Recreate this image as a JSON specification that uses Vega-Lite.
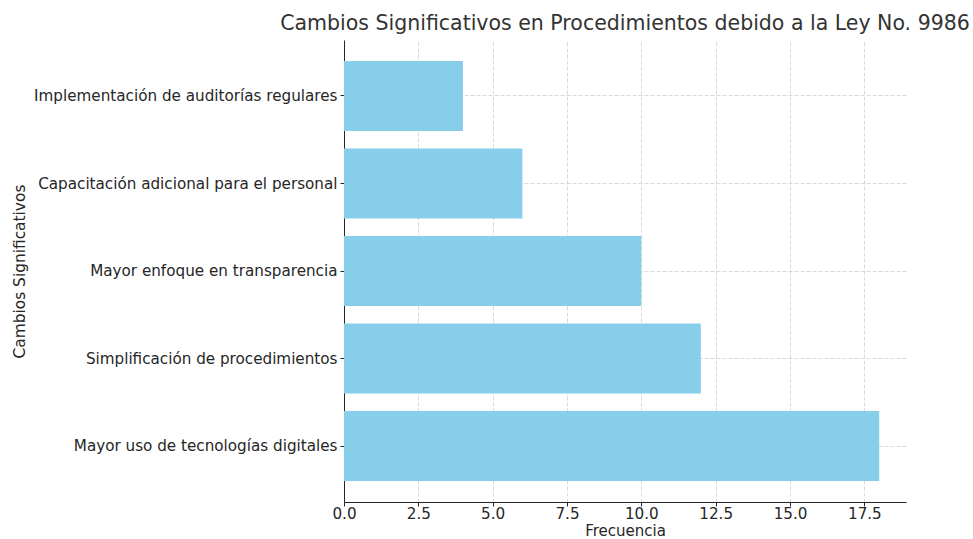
{
  "$schema": "https://vega.github.io/schema/vega-lite/v6.json",
  "autosize": {"type": "none"},
  "padding": {"left": 344, "top": 40, "right": 67, "bottom": 37},
  "width": 562,
  "height": 462,
  "background": "white",
  "config": {
    "view": {"stroke": null},
    "font": "DejaVu Sans",
    "axis": {
      "labelFont": "DejaVu Sans",
      "titleFont": "DejaVu Sans",
      "labelColor": "#262626",
      "titleColor": "#262626",
      "domainColor": "#262626",
      "tickColor": "#262626",
      "labelFontSize": 15.2,
      "titleFontSize": 15.4,
      "titleFontWeight": "normal",
      "tickSize": 4,
      "domainWidth": 1,
      "tickWidth": 1,
      "grid": true,
      "gridColor": "#cfcfcf",
      "gridDash": [4, 2],
      "gridWidth": 0.8,
      "zindex": 1
    }
  },
  "title": {
    "text": "Cambios Significativos en Procedimientos debido a la Ley No. 9986",
    "font": "DejaVu Sans",
    "fontSize": 20.5,
    "fontWeight": "normal",
    "color": "#333333",
    "anchor": "middle",
    "offset": 6
  },
  "data": {
    "values": [
      {"cambio": "Implementación de auditorías regulares", "frecuencia": 4},
      {"cambio": "Capacitación adicional para el personal", "frecuencia": 6},
      {"cambio": "Mayor enfoque en transparencia", "frecuencia": 10},
      {"cambio": "Simplificación de procedimientos", "frecuencia": 12},
      {"cambio": "Mayor uso de tecnologías digitales", "frecuencia": 18}
    ]
  },
  "mark": {"type": "bar", "color": "#87CEEB"},
  "encoding": {
    "y": {
      "field": "cambio",
      "type": "nominal",
      "sort": null,
      "title": "Cambios Significativos",
      "scale": {"paddingInner": 0.2, "paddingOuter": 0.24},
      "axis": {"labelPadding": 3, "labelLimit": 400, "titleX": -325, "titleY": 231, "titleAngle": -90, "titleAlign": "center", "titleBaseline": "middle"}
    },
    "x": {
      "field": "frecuencia",
      "type": "quantitative",
      "title": "Frecuencia",
      "scale": {"domain": [0, 18.9], "nice": false, "zero": true},
      "axis": {"values": [0, 2.5, 5, 7.5, 10, 12.5, 15, 17.5], "format": ".1f", "labelPadding": 0, "labelFlush": false, "titleY": 28.5, "titleFontSize": 15, "titleBaseline": "middle"}
    }
  }
}
